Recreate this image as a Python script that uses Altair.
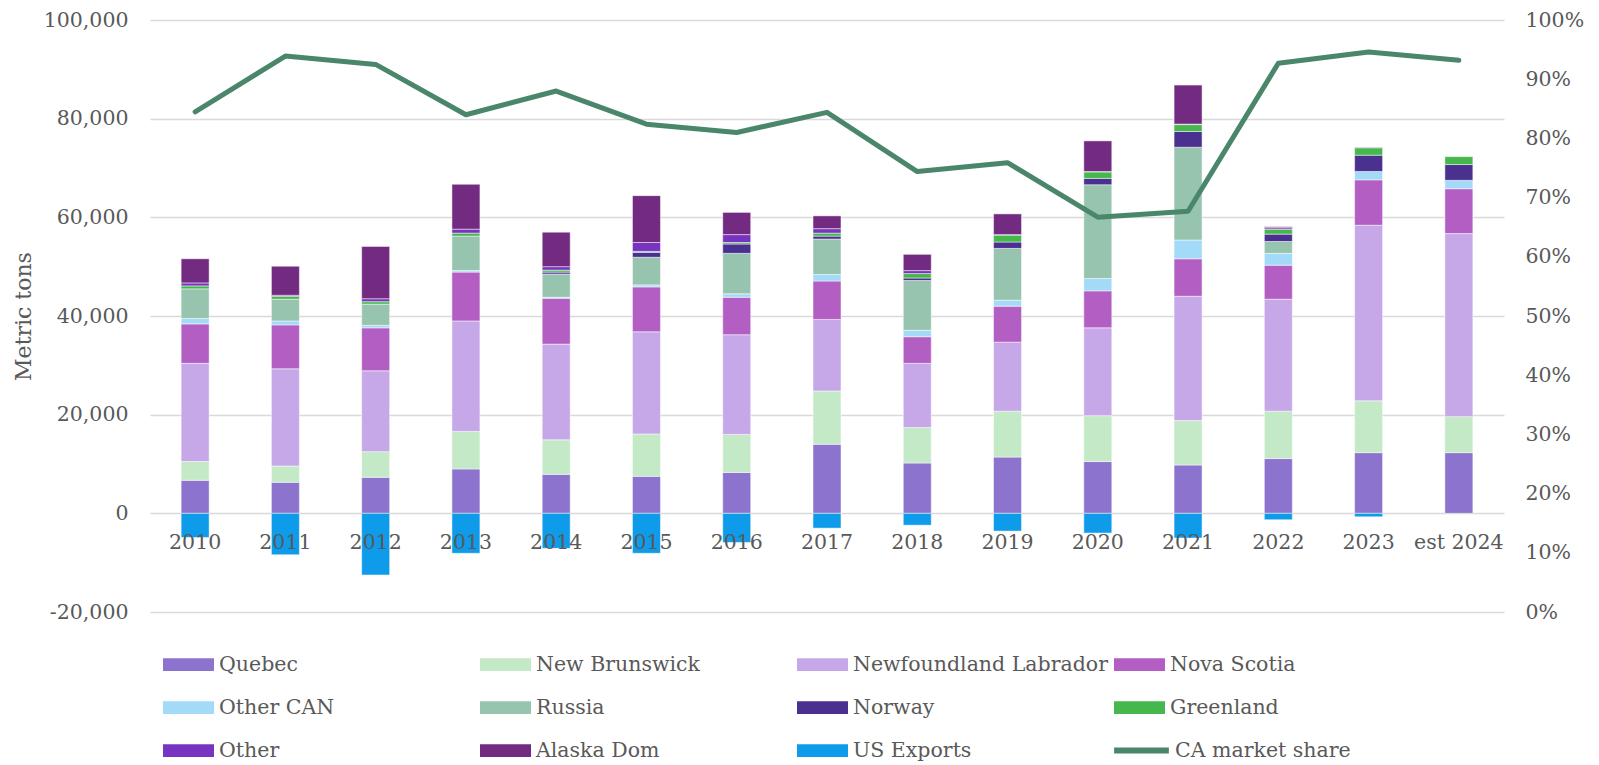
import altair as alt
import pandas as pd

years = ["2010", "2011", "2012", "2013", "2014", "2015", "2016", "2017",
         "2018", "2019", "2020", "2021", "2022", "2023", "est 2024"]

series_names = ["Quebec", "New Brunswick", "Newfoundland Labrador", "Nova Scotia",
                "Other CAN", "Russia", "Norway", "Greenland", "Other", "Alaska Dom",
                "US Exports"]
line_name = "CA market share"

quebec = [6700, 6300, 7300, 9000, 7900, 7500, 8300, 14000, 10200, 11400, 10500, 9800, 11100, 12300, 12300]
new_brunswick = [3800, 3300, 5200, 7600, 7000, 8600, 7700, 10800, 7200, 9300, 9300, 9000, 9600, 10500, 7300]
newfoundland = [19900, 19700, 16400, 22400, 19400, 20700, 20200, 14500, 13000, 14000, 17800, 25200, 22700, 35600, 37100]
nova_scotia = [8000, 8900, 8700, 9900, 9300, 9100, 7600, 7800, 5400, 7300, 7500, 7600, 6900, 9200, 9100]
other_can = [1100, 800, 500, 300, 200, 400, 700, 1300, 1300, 1200, 2500, 3800, 2400, 1700, 1700]
russia = [6000, 4400, 4300, 7000, 4700, 5600, 8200, 7200, 10100, 10500, 19000, 18800, 2400, 0, 0]
norway = [0, 0, 0, 0, 400, 1000, 1900, 600, 500, 1300, 1300, 3200, 1500, 3300, 3200]
greenland = [600, 600, 500, 600, 400, 200, 300, 600, 900, 1400, 1300, 1400, 1000, 1500, 1600]
other = [600, 200, 600, 800, 700, 1800, 1600, 900, 600, 100, 100, 100, 300, 100, 0]
alaska_dom = [4900, 5900, 10600, 9100, 7000, 9500, 4500, 2600, 3300, 4200, 6200, 7900, 200, 0, 0]
us_exports = [-4900, -8400, -12500, -8100, -7100, -8100, -5900, -3000, -2400, -3600, -4000, -5000, -1300, -700, 0]

ca_share = [0.845, 0.939, 0.925, 0.840, 0.880, 0.824, 0.810, 0.844, 0.744, 0.759, 0.667, 0.677, 0.927, 0.946, 0.932]

colors = ["#8C73CD", "#C4E9C6", "#C6A8E8", "#B35EC3", "#A3DAF8", "#97C4AF",
          "#4A3190", "#46B74C", "#7833C0", "#722B80", "#0D9BEA"]
line_color = "#4A876A"

all_series = [quebec, new_brunswick, newfoundland, nova_scotia, other_can, russia,
              norway, greenland, other, alaska_dom, us_exports]

rows = []
for si, (name, vals) in enumerate(zip(series_names, all_series)):
    for yr, v in zip(years, vals):
        if v != 0:
            rows.append({"year": yr, "series": name, "value": v, "order": si})
bars_df = pd.DataFrame(rows)
line_df = pd.DataFrame({"year": years, "share": ca_share, "series": line_name})

FONT = "DejaVu Serif"
TXT = "#595959"
LEG_X = 13
LEG_Y = 619
COL_W = 316
ROW_H = 43

bar_legend = alt.Legend(
    title=None, orient="none", legendX=LEG_X, legendY=LEG_Y,
    columns=4, direction="horizontal", gridAlign="all",
    symbolType="M-1,-0.25H1V0.25H-1Z", symbolSize=2601, symbolStrokeWidth=0,
    labelFont=FONT, labelFontSize=20.5, labelColor=TXT, labelOffset=5, labelLimit=0,
    columnPadding=6, rowPadding=7,
)
line_legend = alt.Legend(
    title=None, orient="none", legendX=LEG_X + 3 * COL_W, legendY=LEG_Y + 2 * ROW_H - 5,
    symbolType="stroke", symbolSize=3000, symbolStrokeWidth=6,
    labelFont=FONT, labelFontSize=20.5, labelColor=TXT, labelOffset=3, labelLimit=0,
)

x_enc = alt.X("year:N", sort=years, scale=alt.Scale(paddingInner=0, paddingOuter=0),
              axis=alt.Axis(title=None, orient="bottom", offset=-99, domain=False, ticks=False,
                            labelAngle=0, labelFont=FONT, labelFontSize=20.5, labelColor=TXT,
                            labelPadding=19, zindex=1, grid=False))

bars = alt.Chart(bars_df).mark_bar(size=28, stroke="white", strokeWidth=0.7, strokeOpacity=0.7).encode(
    x=x_enc,
    y=alt.Y("value:Q", stack="zero",
            scale=alt.Scale(domain=[-20000, 100000], nice=False, zero=False),
            axis=alt.Axis(title="Metric tons", values=list(range(-20000, 100001, 20000)), format=",.0f",
                          labelExpr="replace(datum.label, '\u2212', '-')",
                          domain=False, ticks=False, grid=True, gridColor="#D9D9D9", gridWidth=1.5,
                          labelFont=FONT, labelFontSize=20.5, labelColor=TXT, labelPadding=22,
                          titleFont=FONT, titleFontSize=22, titleFontWeight="normal", titleColor=TXT,
                          titleX=-127, titleBaseline="middle")),
    color=alt.Color("series:N", scale=alt.Scale(domain=series_names, range=colors), legend=bar_legend),
    order=alt.Order("order:Q"),
)

line = alt.Chart(line_df).mark_line(strokeWidth=5, strokeCap="round", strokeJoin="round").encode(
    x=alt.X("year:N", sort=years),
    y=alt.Y("share:Q", scale=alt.Scale(domain=[0, 1], nice=False),
            axis=alt.Axis(title=None, orient="right", values=[i / 10 for i in range(11)], format=".0%",
                          domain=False, ticks=False, grid=False,
                          labelFont=FONT, labelFontSize=20.5, labelColor=TXT, labelPadding=21)),
    stroke=alt.Stroke("series:N", scale=alt.Scale(domain=[line_name], range=[line_color]),
                      legend=line_legend),
)

chart = alt.layer(bars, line).resolve_scale(y="independent").properties(
    width=1354, height=592,
    autosize=alt.AutoSizeParams(type="none"),
    padding={"left": 142, "top": 12, "right": 87, "bottom": 155},
).configure_view(stroke=None)

chart.save("out.html", embed_options={"renderer": "svg", "actions": False})
